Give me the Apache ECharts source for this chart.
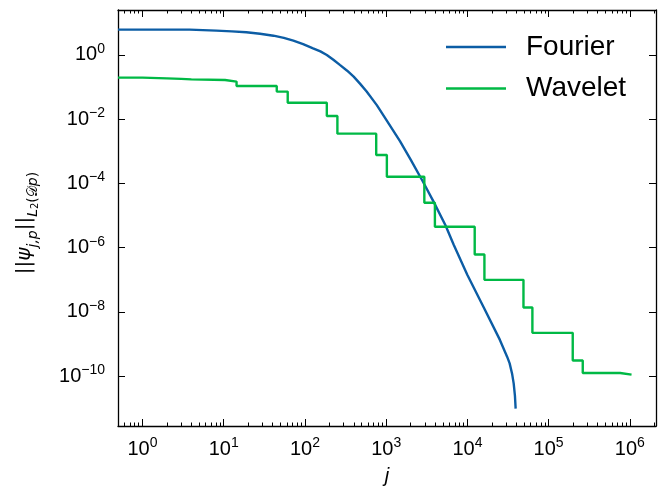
<!DOCTYPE html>
<html><head><meta charset="utf-8">
<script src="https://cdn.jsdelivr.net/npm/echarts@6/dist/echarts.min.js"></script>
<style>html,body{margin:0;padding:0;background:#fff}#c{width:665px;height:497px}</style>
</head><body><div id="c"></div>
<script>
// ---- data ----
const seriesNames = ['Fourier', 'Wavelet'];
const fourierJ = [0.5, 1, 3.8, 8.1, 12.6, 19, 28, 41, 55, 72, 95, 126, 155, 186, 224, 269, 331, 398, 479, 575, 767, 1023, 1479, 1995, 2818, 3802, 5370, 6761, 10000, 15849, 25119, 30903, 33113, 35481, 37154, 38459, 39264];
const fourierV = [6.17, 6.17, 6.14, 5.71, 5.43, 5.08, 4.57, 3.98, 3.39, 2.79, 2.19, 1.61, 1.29, 1.0, 0.708, 0.490, 0.324, 0.211, 0.126, 0.0724, 0.0275, 8.9e-3, 2.09e-3, 5.6e-4, 1.17e-4, 2.82e-5, 5.0e-6, 1.26e-6, 1.41e-7, 1.41e-8, 1.35e-9, 3.98e-10, 2.51e-10, 1.20e-10, 5.9e-11, 2.5e-11, 9.8e-12];
const waveletJ = [0.5, 1, 2, 3, 4, 10.4, 14.4, 45, 61.4, 186, 251, 754, 1020, 2950, 3980, 12300, 16200, 49000, 63100, 198000, 263000, 760000, 1048576];
const waveletV = [0.197, 0.187, 0.180, 0.174, 0.166, 0.148, 0.108, 0.0724, 0.0327, 0.0126, 0.00355, 7.7e-4, 1.62e-4, 2.51e-5, 4.47e-6, 6.17e-7, 1.0e-7, 1.38e-8, 2.24e-9, 3.1e-10, 1.26e-10, 1.12e-10, 1.12e-10];
const xMajorTicks = [1, 10, 100, 1e3, 1e4, 1e5, 1e6];
const xMinorMultipliers = [2, 3, 4, 5, 6, 7, 8, 9];
const xMinorDecades = [0.1, 1, 10, 100, 1e3, 1e4, 1e5, 1e6];
const yMajorTicks = [1e-10, 1e-8, 1e-6, 1e-4, 1e-2, 1];
const xRange = [0.5, 2097152];
const yRange = [2.82e-12, 25.1];

const xMinorTicks = [];
xMinorDecades.forEach(d => xMinorMultipliers.forEach(m => {
  const v = d * m;
  if (v > xRange[0] && v < xRange[1]) xMinorTicks.push(v);
}));

const zip = (a, b) => a.map((v, i) => [v, b[i]]);
const FONT = 'Liberation Sans';
const sup = v => {
  const e = Math.round(Math.log10(v));
  return '{b|10}{s|' + (e < 0 ? '\u2212' + (-e) : e) + '}';
};
const labelRich = {
  b: { fontSize: 20, fontFamily: FONT, color: '#000', lineHeight: 26 },
  s: { fontSize: 14, fontFamily: FONT, color: '#000', verticalAlign: 'top', lineHeight: 16 }
};

function xAxis(pos, ticks, len, showLabel, showLine) {
  return {
    type: 'log', position: pos, min: xRange[0], max: xRange[1], logBase: 10,
    axisLine: { show: showLine, onZero: false, lineStyle: { color: '#000', width: 1.3 } },
    axisTick: { show: true, inside: true, length: len, customValues: ticks, lineStyle: { color: '#000', width: 1 } },
    axisLabel: { show: showLabel, customValues: ticks, margin: 10, formatter: sup, rich: labelRich },
    splitLine: { show: false }, minorTick: { show: false },
    name: showLabel ? 'j' : '', nameLocation: 'middle', nameGap: 40,
    nameTextStyle: { fontSize: 20, fontFamily: FONT, fontStyle: 'italic', color: '#000' }
  };
}
function yAxis(pos, showLabel) {
  return {
    type: 'log', position: pos, min: yRange[0], max: yRange[1], logBase: 10,
    axisLine: { show: true, onZero: false, lineStyle: { color: '#000', width: 1.3 } },
    axisTick: { show: true, inside: true, length: 7, customValues: yMajorTicks, lineStyle: { color: '#000', width: 1 } },
    axisLabel: { show: showLabel, customValues: yMajorTicks, margin: 13, formatter: sup, rich: labelRich },
    splitLine: { show: false }, minorTick: { show: false },
    name: showLabel ? '{m|||}{i|ψ}{sub|j,p}{m|||}{sub|L}{sup|2}{subn|(}{cal|𝒟}{sub|p}{subn|)}' : '',
    nameLocation: 'middle', nameRotate: 90, nameGap: 78,
    nameTextStyle: {
      color: '#000', padding: [0, 10, 0, 0],
      rich: {
        m: { fontSize: 20, fontFamily: 'DejaVu Sans', color: '#000', lineHeight: 30 },
        i: { fontSize: 20, fontFamily: 'DejaVu Sans', fontStyle: 'italic', color: '#000', lineHeight: 30 },
        sub: { fontSize: 14, fontFamily: 'DejaVu Sans', fontStyle: 'italic', color: '#000', verticalAlign: 'bottom', lineHeight: 14 },
        subn: { fontSize: 14, fontFamily: 'DejaVu Sans', color: '#000', verticalAlign: 'bottom', lineHeight: 14 },
        cal: { fontSize: 14, fontFamily: 'DejaVu Sans', color: '#000', verticalAlign: 'bottom', lineHeight: 14 },
        sup: { fontSize: 10, fontFamily: 'DejaVu Sans', color: '#000', verticalAlign: 'bottom', lineHeight: 27 }
      }
    }
  };
}

const chart = echarts.init(document.getElementById('c'), null, { renderer: 'canvas' });
chart.setOption({
  animation: false,
  backgroundColor: '#fff',
  grid: { left: 118, right: 9, top: 10, bottom: 71, containLabel: false, outerBoundsMode: 'none' },
  legend: {
    data: seriesNames.map(n => ({ name: n, icon: 'rect' })),
    orient: 'vertical', left: 446, top: 33, padding: 0,
    itemWidth: 60, itemHeight: 2.5, itemGap: 13.6,
    textStyle: { fontSize: 28, fontFamily: FONT, color: '#000', lineHeight: 28, padding: [0, 0, 0, 15] }
  },
  xAxis: [
    xAxis('bottom', xMajorTicks, 7, true, true),
    xAxis('bottom', xMinorTicks, 3.5, false, false),
    xAxis('top', xMajorTicks, 7, false, true),
    xAxis('top', xMinorTicks, 3.5, false, false)
  ],
  yAxis: [yAxis('left', true), yAxis('right', false)],
  series: [
    { name: seriesNames[0], type: 'line', data: zip(fourierJ, fourierV), symbol: 'none',
      lineStyle: { color: '#0C5DA5', width: 2.4 }, itemStyle: { color: '#0C5DA5' }, xAxisIndex: 0, yAxisIndex: 0 },
    { name: seriesNames[1], type: 'line', step: 'end', data: zip(waveletJ, waveletV), symbol: 'none',
      lineStyle: { color: '#00B945', width: 2.4 }, itemStyle: { color: '#00B945' }, xAxisIndex: 0, yAxisIndex: 0 }
  ]
});
</script></body></html>
